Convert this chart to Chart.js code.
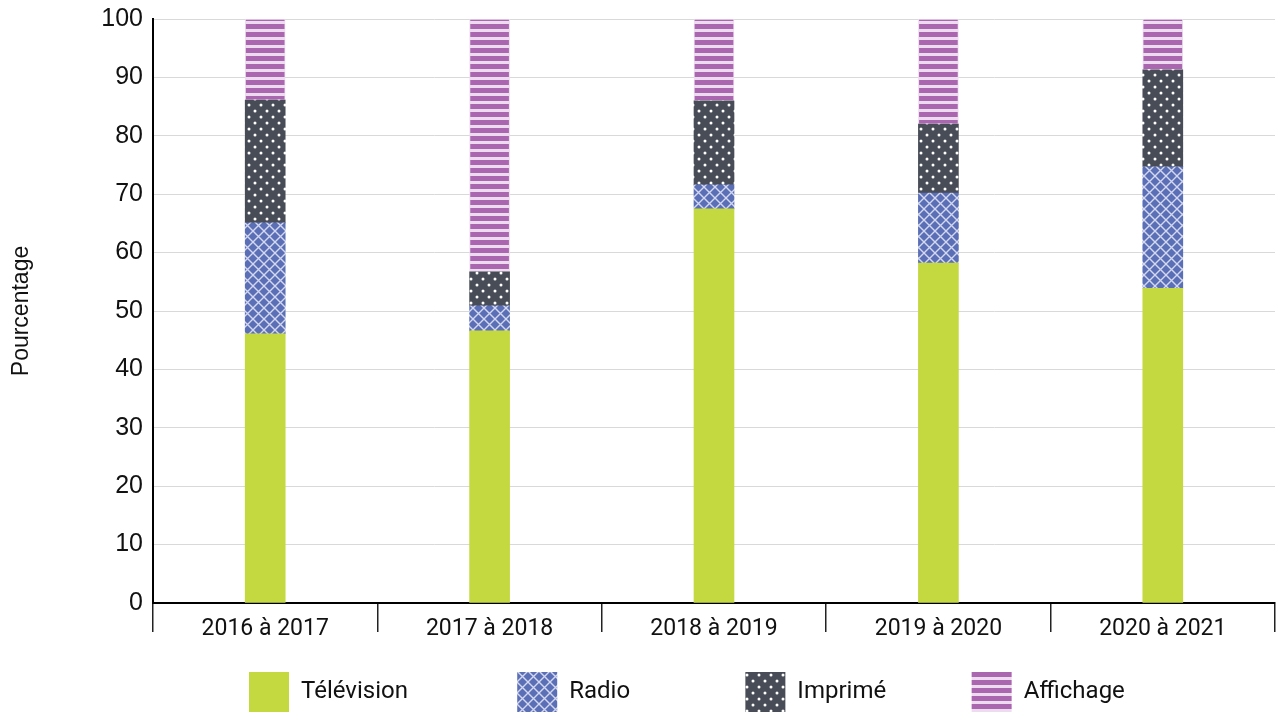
<!DOCTYPE html>
<html lang="fr">
<head>
<meta charset="utf-8">
<script src="https://cdn.jsdelivr.net/npm/chart.js@4"></script>
<style>
  html, body { margin: 0; padding: 0; background: #fff; }
  #wrap { width: 1277px; height: 712px; }
</style>
</head>
<body>
<div id="wrap"><canvas id="chart" width="1277" height="712"></canvas></div>
<script>
// données (pourcentage)
const periods = ['2016 à 2017', '2017 à 2018', '2018 à 2019', '2019 à 2020', '2020 à 2021'];
const television = [46.1, 46.6, 67.5, 58.2, 53.9];
const radio = [19.0, 4.3, 4.1, 12.0, 20.8];
const imprime = [21.0, 5.8, 14.4, 11.8, 16.6];
const affichage = [13.9, 43.3, 14.0, 18.0, 8.7];
const yTicks = [0, 10, 20, 30, 40, 50, 60, 70, 80, 90, 100];

function make_tile(w, h, draw) {
    const c = document.createElement('canvas');
    c.width = w;
    c.height = h;
    draw(c.getContext('2d'), w, h);
    return document.getElementById('chart').getContext('2d').createPattern(c, 'repeat');
}

const radio_fill = make_tile(11, 11, (g, w, h) => {
    g.fillStyle = '#5b6fb6';
    g.fillRect(0, 0, w, h);
    g.strokeStyle = '#d3d7f0';
    g.lineWidth = 1.4;
    g.beginPath();
    g.moveTo(0, 0); g.lineTo(w, h);
    g.moveTo(w, 0); g.lineTo(0, h);
    g.stroke();
});

const imprime_fill = make_tile(12, 12, (g, w, h) => {
    g.fillStyle = '#474c56';
    g.fillRect(0, 0, w, h);
    g.fillStyle = '#ffffff';
    [[3, 3], [9, 9]].forEach(p => {
        g.beginPath();
        g.arc(p[0], p[1], 1.5, 0, Math.PI * 2);
        g.fill();
    });
});

const affichage_fill = make_tile(8, 8, (g, w, h) => {
    g.fillStyle = '#eddcef';
    g.fillRect(0, 0, w, h);
    g.fillStyle = '#aa67b0';
    g.fillRect(0, 0, w, 5);
});

// légende : hauteur sans la marge du bas, départ à gauche comme l'original
const legendFit = {
    id: 'legendFit',
    beforeInit(chart) {
        const orig = chart.legend.fit;
        chart.legend.fit = function () {
            orig.call(this);
            this.height = 60;
        };
    },
    afterLayout(chart) {
        chart.legend.left = 229;
    }
};

const spaced = ['               ', '                ', '           ', ''];

new Chart(document.getElementById('chart'), {
    type: 'bar',
    data: {
        labels: periods,
        datasets: [
            { label: 'Télévision', data: television, backgroundColor: '#c4d940' },
            { label: 'Radio', data: radio, backgroundColor: radio_fill },
            { label: 'Imprimé', data: imprime, backgroundColor: imprime_fill },
            { label: 'Affichage', data: affichage, backgroundColor: affichage_fill, borderColor: '#efdcf0', borderWidth: 1 }
        ]
    },
    options: {
        responsive: false,
        animation: false,
        layout: { padding: { top: 19, right: 2, left: 0, bottom: 0 } },
        datasets: { bar: { barThickness: 40, borderSkipped: false } },
        scales: {
            x: {
                stacked: true,
                offset: true,
                grid: {
                    offset: true,
                    drawOnChartArea: false,
                    drawTicks: true,
                    tickLength: 29,
                    color: '#222',
                    lineWidth: 1.5
                },
                border: { color: '#000', width: 2 },
                ticks: {
                    color: '#111',
                    padding: -17,
                    font: { family: 'Roboto', size: 23 }
                },
                afterFit: s => { s.height = 49; }
            },
            y: {
                stacked: true,
                min: 0,
                max: 100,
                afterBuildTicks: s => { s.ticks = yTicks.map(v => ({ value: v })); },
                grid: { color: '#d9d9d9', lineWidth: 1, drawTicks: false },
                border: { color: '#000', width: 2 },
                ticks: {
                    color: '#111',
                    padding: 10,
                    font: { family: 'Liberation Sans', size: 25 }
                },
                title: {
                    display: true,
                    text: 'Pourcentage',
                    color: '#111',
                    padding: { top: 8, bottom: 0 },
                    font: { family: 'Liberation Sans', size: 23 }
                },
                afterFit: s => {
                    s.width = 153;
                    s.paddingTop = 0;
                    s.paddingBottom = 0;
                }
            }
        },
        plugins: {
            tooltip: { enabled: false },
            legend: {
                position: 'bottom',
                align: 'start',
                labels: {
                    boxWidth: 40,
                    boxHeight: 40,
                    padding: 20,
                    color: '#111',
                    font: { family: 'Roboto', size: 24 },
                    generateLabels: chart => Chart.defaults.plugins.legend.labels.generateLabels(chart)
                        .map((item, i) => Object.assign(item, { text: item.text + spaced[i], lineWidth: 0 }))
                }
            }
        }
    },
    plugins: [legendFit]
});
</script>
</body>
</html>
